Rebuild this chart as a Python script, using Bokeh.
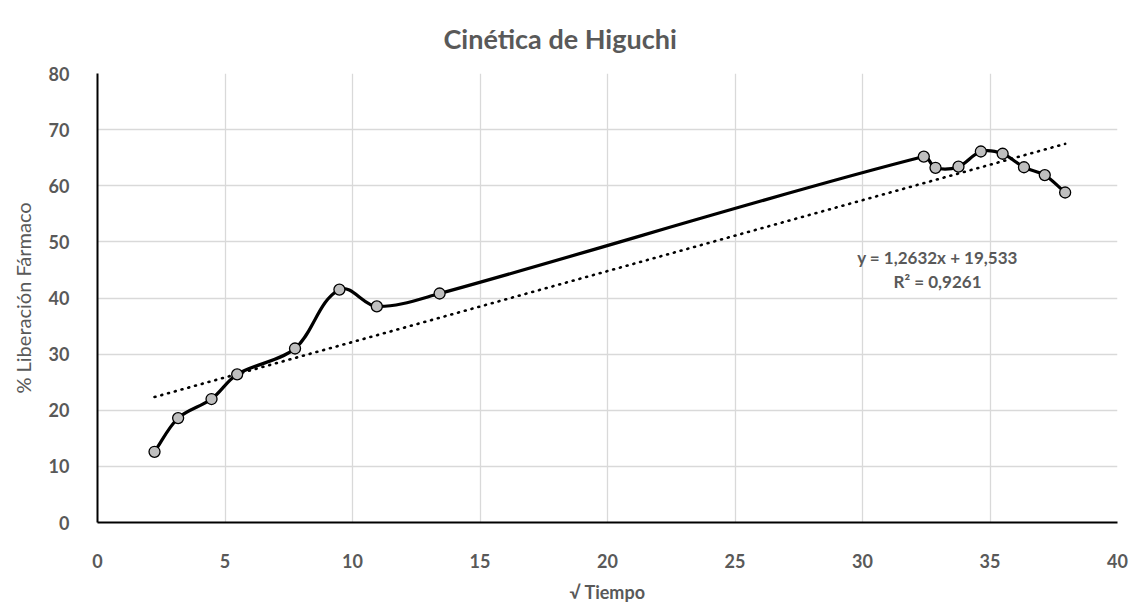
import math
from bokeh.plotting import figure
from bokeh.models import Range1d, FixedTicker, Label, ColumnDataSource
from bokeh.embed import file_html
from bokeh.resources import INLINE

# Square root of time and % drug released
sqrt_t = [2.236, 3.162, 4.472, 5.477, 7.746, 9.487, 10.954, 13.416,
          32.404, 32.863, 33.764, 34.641, 35.496, 36.332, 37.148, 37.947]
release = [12.6, 18.6, 22.0, 26.4, 31.0, 41.5, 38.5, 40.8,
           65.2, 63.2, 63.4, 66.1, 65.7, 63.3, 61.9, 58.8]

# Linear trend (Higuchi fit)
slope = 1.2632
intercept = 19.533
r2 = 0.9261

x_ticks = [0, 5, 10, 15, 20, 25, 30, 35, 40]
y_ticks = [0, 10, 20, 30, 40, 50, 60, 70, 80]

GREY = "#595959"
FONT = "Lato"

W, H = 1129, 605
LEFT, RIGHT, TOP, BOTTOM = 97, 12, 73, 75
frame_w = W - LEFT - RIGHT
frame_h = H - TOP - BOTTOM

p = figure(width=W, height=H, output_backend="svg", toolbar_location=None,
           x_range=Range1d(0, 40), y_range=Range1d(0, 80),
           min_border_left=LEFT, min_border_right=RIGHT,
           min_border_top=TOP, min_border_bottom=BOTTOM,
           title="Cinética de Higuchi")
p.outline_line_color = None
p.background_fill_color = "white"
p.border_fill_color = "white"

# Title sits in the top border, left-aligned with an offset so that it is
# centred on the canvas rather than on the frame
p.title.align = "left"
p.title.vertical_align = "middle"
p.title.offset = 346
p.title.standoff = 36
p.title.text_font = FONT
p.title.text_font_style = "bold"
p.title.text_font_size = "27px"
p.title.text_color = GREY

p.xaxis.ticker = FixedTicker(ticks=x_ticks)
p.yaxis.ticker = FixedTicker(ticks=y_ticks)
p.xgrid.grid_line_color = "#D9D9D9"
p.ygrid.grid_line_color = "#D9D9D9"
p.xgrid.grid_line_width = 1.3
p.ygrid.grid_line_width = 1.3

for ax in (p.xaxis, p.yaxis):
    ax.axis_line_color = "black"
    ax.axis_line_width = 2
    ax.major_tick_line_color = None
    ax.minor_tick_line_color = None
    ax.major_label_text_font = FONT
    ax.major_label_text_font_style = "bold"
    ax.major_label_text_font_size = "18px"
    ax.major_label_text_color = GREY
    ax.axis_label_text_font = FONT
    ax.axis_label_text_color = GREY

p.xaxis.axis_label = "√ Tiempo"
p.xaxis.axis_label_text_font_style = "bold"
p.xaxis.axis_label_text_font_size = "18px"
p.yaxis.axis_label = "% Liberación Fármaco"
p.yaxis.axis_label_text_font_style = "normal"
p.yaxis.axis_label_text_font_size = "20px"
p.xaxis.major_label_standoff = 25
p.yaxis.major_label_standoff = 22
p.xaxis.axis_label_standoff = 10
p.yaxis.axis_label_standoff = 11

# Trend line over the data span
x0, x1 = min(sqrt_t), max(sqrt_t)
p.line([x0, x1], [slope * x0 + intercept, slope * x1 + intercept],
       line_color="black", line_width=2.6, line_dash="1 6", line_cap="round")

# Smoothed connecting curve: cubic Bezier segments whose handles follow the
# neighbour direction and scale with each segment's own length (pixel space)
sx = frame_w / 40.0
sy = frame_h / 80.0
n = len(sqrt_t)
tension = 0.32


def unit_dir(i):
    a = max(i - 1, 0)
    b = min(i + 1, n - 1)
    dx = (sqrt_t[b] - sqrt_t[a]) * sx
    dy = (release[b] - release[a]) * sy
    d = math.hypot(dx, dy)
    return dx / d, dy / d


seg = dict(x0=[], y0=[], x1=[], y1=[], cx0=[], cy0=[], cx1=[], cy1=[])
for i in range(n - 1):
    xa, ya = sqrt_t[i], release[i]
    xb, yb = sqrt_t[i + 1], release[i + 1]
    L = math.hypot((xb - xa) * sx, (yb - ya) * sy) * tension
    ua = unit_dir(i)
    ub = unit_dir(i + 1)
    seg["x0"].append(xa); seg["y0"].append(ya)
    seg["x1"].append(xb); seg["y1"].append(yb)
    seg["cx0"].append(xa + ua[0] * L / sx); seg["cy0"].append(ya + ua[1] * L / sy)
    seg["cx1"].append(xb - ub[0] * L / sx); seg["cy1"].append(yb - ub[1] * L / sy)
p.bezier(x0="x0", y0="y0", x1="x1", y1="y1", cx0="cx0", cy0="cy0",
         cx1="cx1", cy1="cy1", source=ColumnDataSource(seg),
         line_color="black", line_width=3.2)

p.scatter(sqrt_t, release, size=11, fill_color="#BFBFBF",
          line_color="black", line_width=1.3)

# Equation labels; screen units are measured from the frame's lower-left
eq = f"y = {slope:.4f}x + {intercept:.3f}".replace(".", ",")
r2_txt = f"R² = {r2:.4f}".replace(".", ",")
for txt, yy in ((eq, 265), (r2_txt, 289)):
    p.add_layout(Label(x=937 - LEFT, y=(H - BOTTOM) - yy, x_units="screen",
                       y_units="screen", text=txt, text_font=FONT,
                       text_font_style="bold", text_font_size="17px",
                       text_color=GREY, text_align="center",
                       text_baseline="middle"))

open("out.html", "w").write(file_html(p, INLINE))
